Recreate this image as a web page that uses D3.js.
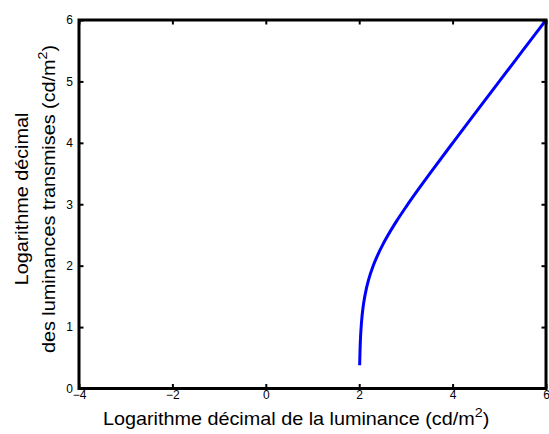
<!DOCTYPE html>
<html>
<head>
<meta charset="utf-8">
<script src="https://cdn.jsdelivr.net/npm/d3@7"></script>
<style>
  html, body { margin: 0; padding: 0; background: #fff; }
  svg { display: block; font-family: "Liberation Sans", Arial, sans-serif; }
</style>
</head>
<body>
<svg id="chart" width="549" height="434"></svg>
<script>
// Data
const lumX = [2.01, 2.012, 2.015, 2.02, 2.03, 2.05, 2.08, 2.1, 2.15, 2.2, 2.3, 2.4, 2.5, 2.6, 2.8, 3.0, 3.25, 3.5, 4.0, 4.5, 5.0, 5.5, 6.0];
const lumY = [0.38, 0.45, 0.545, 0.673, 0.854, 1.086, 1.306, 1.413, 1.615, 1.767, 1.998, 2.18, 2.335, 2.474, 2.725, 2.954, 3.225, 3.486, 3.996, 4.499, 5.0, 5.5, 6.0];
const xTicks = [-4, -2, 0, 2, 4, 6];
const yTicks = [0, 1, 2, 3, 4, 5, 6];
const xDomain = [-4, 6];
const yDomain = [0, 6];
const xTitle = "Logarithme décimal de la luminance (cd/m";
const yTitle1 = "Logarithme décimal";
const yTitle2 = "des luminances transmises (cd/m";

const svg = d3.select("#chart");
const L = 79, R = 546, T = 20, B = 388.5;
const x = d3.scaleLinear().domain(xDomain).range([L, R]);
const y = d3.scaleLinear().domain(yDomain).range([B, T]);

// curve
const pts = lumX.map((v, i) => [v, lumY[i]]);
svg.append("path")
  .datum(pts)
  .attr("fill", "none")
  .attr("stroke", "#0000ff")
  .attr("stroke-width", 3)
  .attr("d", d3.line().x(d => x(d[0])).y(d => y(d[1])).curve(d3.curveMonotoneX));

// axes with inward ticks
const tl = 4.5;
const fmt = d3.format("d");
const axB = svg.append("g").attr("transform", `translate(0,${B})`)
  .call(d3.axisBottom(x).tickValues(xTicks).tickSize(-tl).tickSizeOuter(0).tickPadding(4).tickFormat(fmt));
const axT = svg.append("g").attr("transform", `translate(0,${T})`)
  .call(d3.axisTop(x).tickValues(xTicks).tickSize(-tl).tickSizeOuter(0).tickFormat(""));
const axL = svg.append("g").attr("transform", `translate(${L},0)`)
  .call(d3.axisLeft(y).tickValues(yTicks).tickSize(-tl).tickSizeOuter(0).tickPadding(6).tickFormat(fmt));
const axR = svg.append("g").attr("transform", `translate(${R},0)`)
  .call(d3.axisRight(y).tickValues(yTicks).tickSize(-tl).tickSizeOuter(0).tickFormat(""));

[axB, axT, axL, axR].forEach(a => {
  a.select(".domain").remove();
  a.selectAll(".tick line").attr("stroke", "#000").attr("stroke-width", 2);
  a.selectAll("text").attr("fill", "#000").attr("font-size", 12)
    .attr("font-family", "'Liberation Sans', Arial, sans-serif");
});
axB.selectAll("text").attr("dy", "0.5em");

// box
svg.append("rect")
  .attr("x", L).attr("y", T).attr("width", R - L).attr("height", B - T)
  .attr("fill", "none").attr("stroke", "#000").attr("stroke-width", 3);

// x title
const sx = 1.1;
const xg = svg.append("g").attr("transform", `translate(103,425) scale(${sx},1)`);
const xt = xg.append("text").attr("x", 0).attr("y", 0)
  .attr("font-size", 18).attr("fill", "#000");
xt.append("tspan").text(xTitle);
xt.append("tspan").attr("font-size", 13).attr("dy", -8).text("2");
xt.append("tspan").attr("dy", 8).text(")");

// y title
const yt = svg.append("g").attr("transform", `translate(0,199) rotate(-90) scale(${sx},1)`);
yt.append("text").attr("x", 0).attr("y", 28).attr("text-anchor", "middle")
  .attr("font-size", 18).attr("fill", "#000").text(yTitle1);
const y2 = yt.append("text").attr("x", 0).attr("y", 55).attr("text-anchor", "middle")
  .attr("font-size", 18).attr("fill", "#000");
y2.append("tspan").text(yTitle2);
y2.append("tspan").attr("font-size", 13).attr("dy", -8).text("2");
y2.append("tspan").attr("dy", 8).text(")");
</script>
</body>
</html>
